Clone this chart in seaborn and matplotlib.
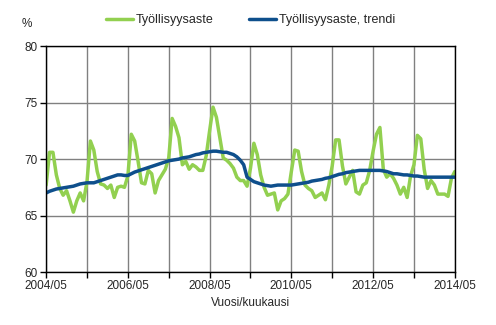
import numpy as np
import pandas as pd
import matplotlib
matplotlib.use("Agg")
import matplotlib.pyplot as plt
import seaborn as sns

# Monthly employment rate (%), 2004/05 - 2014/05
employment_rate = [
    67.7, 70.6, 70.6, 68.6, 67.4, 66.8, 67.2, 66.3, 65.3, 66.3, 67.0, 66.3,
    68.0, 71.6, 70.8, 68.9, 67.8, 67.7, 67.4, 67.7, 66.6, 67.5, 67.6, 67.5,
    68.5, 72.2, 71.6, 69.8, 67.9, 67.8, 69.0, 68.7, 67.0, 68.1, 68.6, 69.1,
    70.1, 73.6, 72.9, 71.9, 69.5, 69.8, 69.1, 69.5, 69.3, 69.0, 69.0, 70.3,
    72.5, 74.6, 73.7, 71.9, 70.1, 69.9, 69.6, 69.2, 68.4, 68.1, 68.1, 67.6,
    69.2, 71.4, 70.4, 68.6, 67.5, 66.8, 66.9, 67.0, 65.5, 66.3, 66.5, 66.9,
    68.9, 70.8, 70.7, 68.9, 67.7, 67.4, 67.2, 66.6, 66.8, 67.0, 66.4, 67.7,
    69.4, 71.7, 71.7, 69.4, 67.8, 68.4, 69.0, 67.1, 66.9, 67.7, 67.9, 69.0,
    70.7, 72.2, 72.8, 69.1, 68.4, 68.7, 68.3, 67.7, 66.9, 67.5, 66.6, 68.5,
    69.5, 72.1, 71.8, 69.1, 67.4, 68.1, 67.7, 66.9, 66.9, 66.9, 66.7, 68.3,
    68.9,
]

# Trend of the employment rate (%)
employment_trend = [
    67.0, 67.15, 67.25, 67.35, 67.4, 67.45, 67.5, 67.55, 67.6, 67.7, 67.8, 67.85,
    67.9, 67.9, 67.9, 68.0, 68.1, 68.2, 68.3, 68.4, 68.5, 68.6, 68.6, 68.55,
    68.55, 68.7, 68.85, 68.95, 69.05, 69.15, 69.25, 69.35, 69.45, 69.55, 69.65, 69.75,
    69.85, 69.9, 69.95, 70.0, 70.1, 70.15, 70.2, 70.3, 70.4, 70.45, 70.55, 70.6,
    70.65, 70.7, 70.7, 70.65, 70.6, 70.6, 70.5, 70.4, 70.2, 69.9, 69.5, 68.4,
    68.2, 68.0, 67.9, 67.8, 67.7, 67.65, 67.6, 67.65, 67.7, 67.7, 67.7, 67.7,
    67.7, 67.75, 67.8, 67.85, 67.9, 67.95, 68.05, 68.1, 68.15, 68.2, 68.3, 68.35,
    68.45, 68.55, 68.65, 68.7, 68.8, 68.85, 68.9, 68.95, 69.0, 69.0, 69.0, 69.0,
    69.0, 69.0, 69.0, 68.95, 68.9, 68.8, 68.7, 68.7, 68.65, 68.6, 68.6, 68.55,
    68.5, 68.5, 68.45, 68.4, 68.4, 68.4, 68.4, 68.4, 68.4, 68.4, 68.4, 68.4,
    68.4,
]

series_names = ["Työllisyysaste", "Työllisyysaste, trendi"]
x_tick_labels = ["2004/05", "2006/05", "2008/05", "2010/05", "2012/05", "2014/05"]
y_ticks = [60, 65, 70, 75, 80]

months = np.arange(len(employment_rate))
df = pd.concat([
    pd.DataFrame({"kk": months, "arvo": employment_rate, "sarja": series_names[0]}),
    pd.DataFrame({"kk": months, "arvo": employment_trend, "sarja": series_names[1]}),
])

sns.set_style("white")
plt.rcParams["font.family"] = ["Liberation Sans", "DejaVu Sans"]

fig = plt.figure(figsize=(4.96, 3.25), dpi=100)
ax = fig.add_axes([0.093, 0.163, 0.824, 0.695])

palette = {series_names[0]: "#92D050", series_names[1]: "#0E4F8C"}
sns.lineplot(data=df, x="kk", y="arvo", hue="sarja", palette=palette,
             linewidth=2.5, ax=ax, legend=False, zorder=3)

ax.set_xlim(0, len(employment_rate) - 1)
ax.set_ylim(60, 80)
ax.set_xticks(np.arange(0, len(employment_rate), 24))
ax.set_xticklabels(x_tick_labels)
ax.set_xticks(np.arange(12, len(employment_rate), 24), minor=True)
ax.set_yticks(y_ticks)
ax.set_yticklabels([str(v) for v in y_ticks])

ax.grid(True, which="both", axis="x", color="#808080", linewidth=1)
ax.grid(True, which="major", axis="y", color="#808080", linewidth=1)
ax.set_axisbelow(True)

for side in ["left", "bottom", "top", "right"]:
    ax.spines[side].set_visible(True)
    ax.spines[side].set_color("black")
    ax.spines[side].set_linewidth(1)
    ax.spines[side].set_zorder(4)

ax.tick_params(axis="both", which="both", direction="out", length=4, width=1,
               color="black", labelsize=8.5, pad=2, bottom=True, left=True)
ax.tick_params(axis="x", which="minor", labelbottom=False)

ax.set_xlabel("Vuosi/kuukausi", fontsize=8.5, labelpad=3)
ax.set_ylabel("")
fig.text(0.055, 0.925, "%", fontsize=8.5, ha="center", va="center")

handles = [plt.Line2D([], [], color=palette[n], linewidth=2.5) for n in series_names]
fig.legend(handles, series_names, loc="center", bbox_to_anchor=(0.505, 0.937),
           ncol=2, frameon=False, fontsize=9, handlelength=2.2,
           handletextpad=0.2, columnspacing=2.8)

fig.savefig("out.png", dpi=100)
